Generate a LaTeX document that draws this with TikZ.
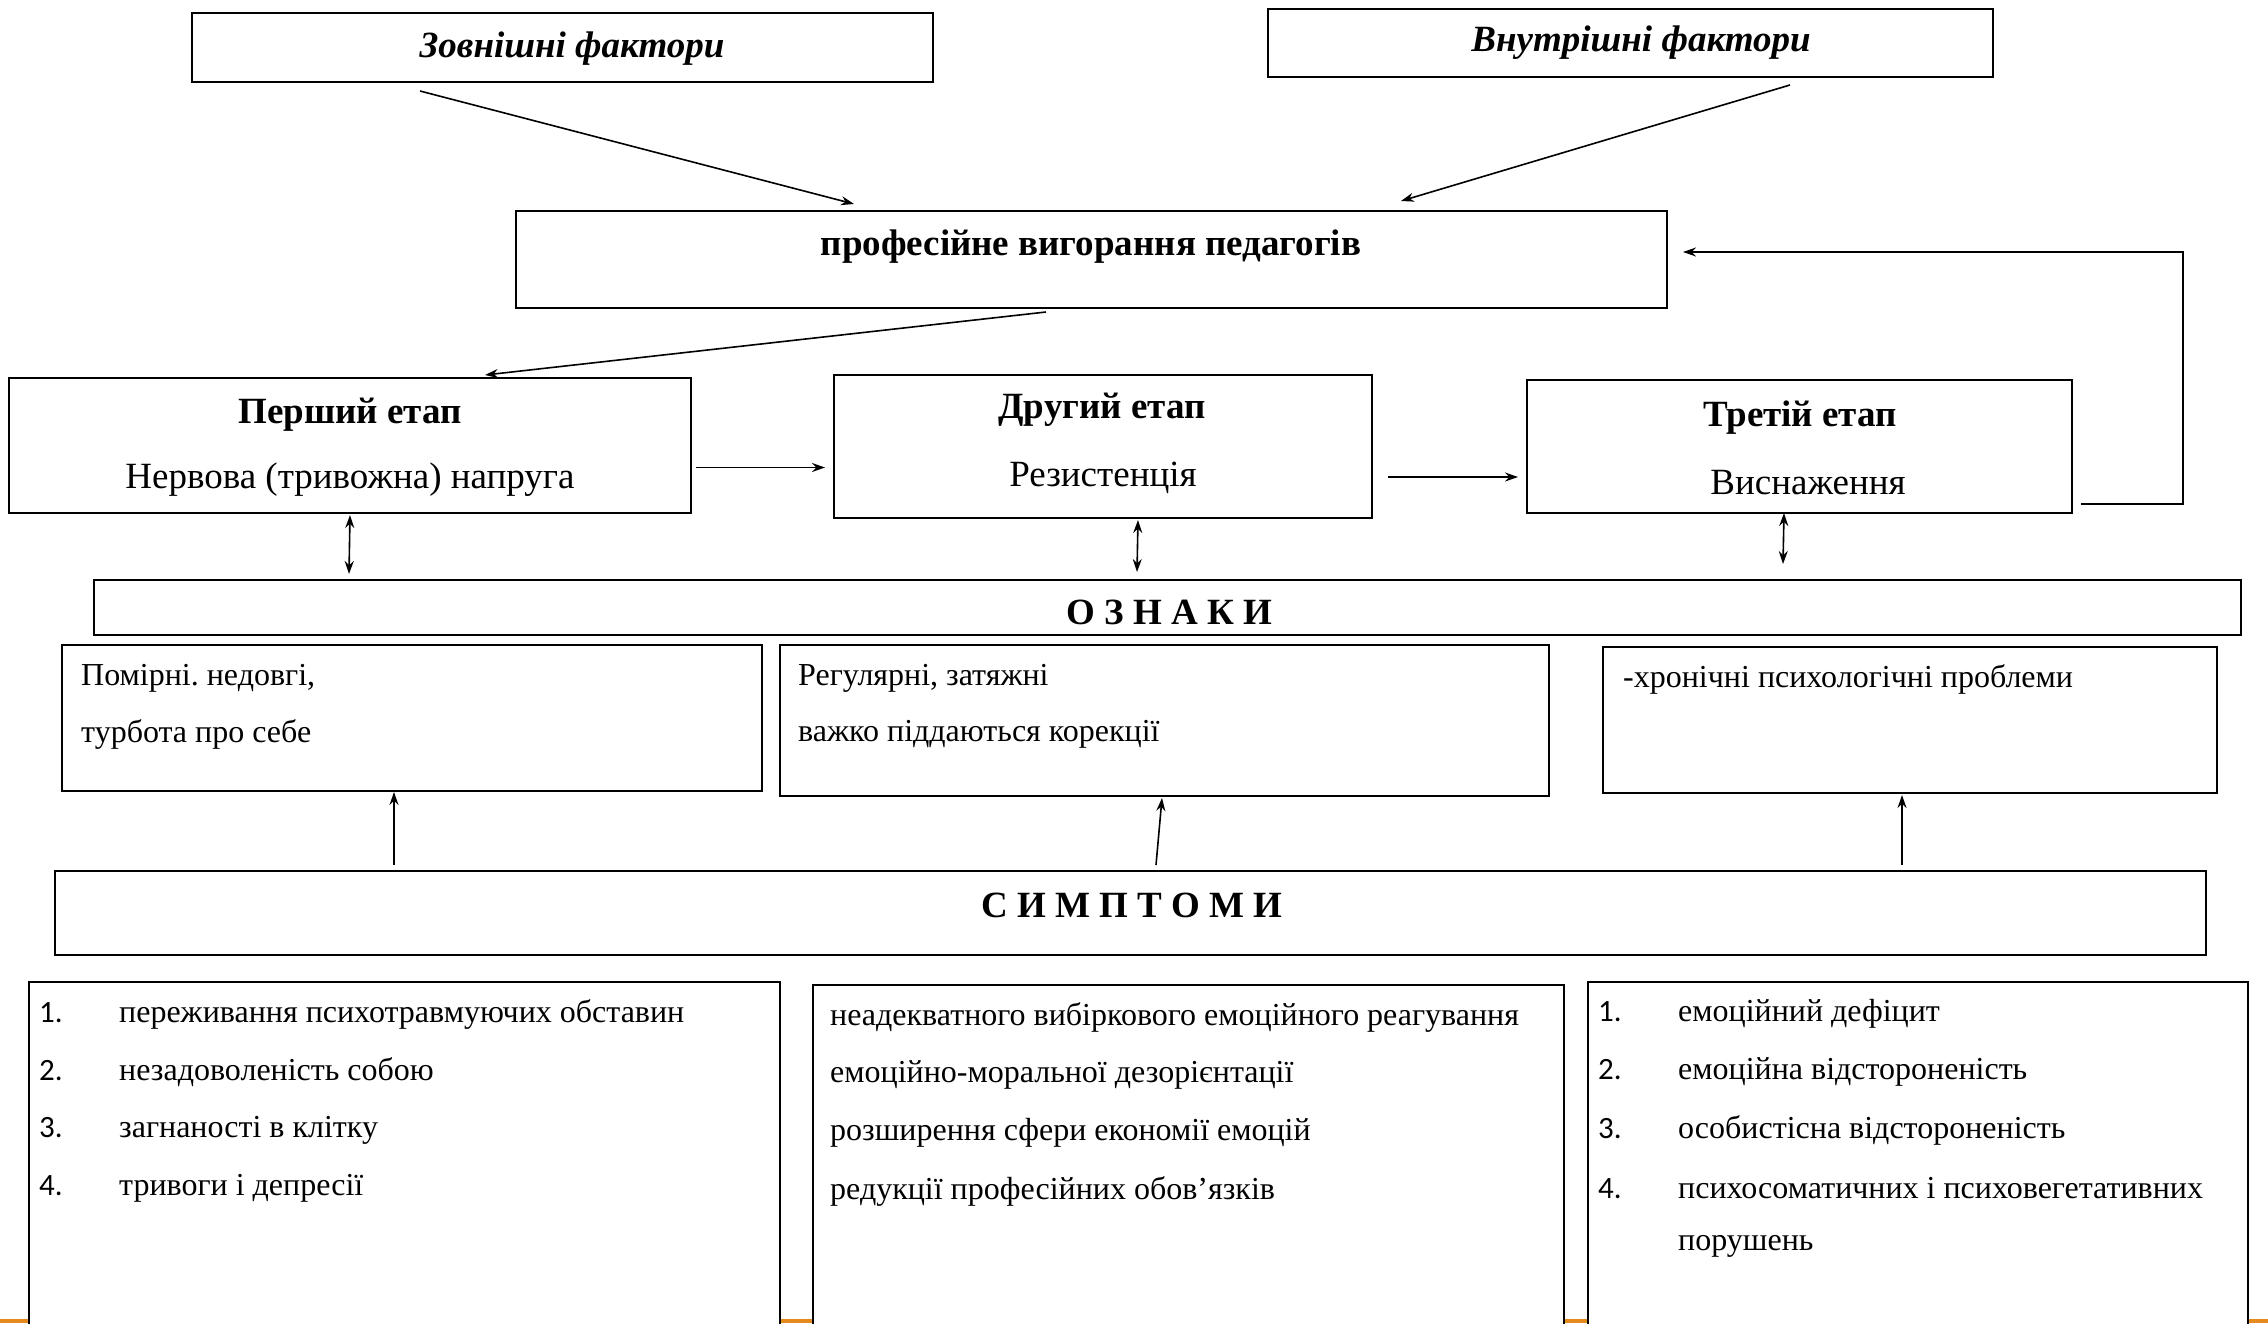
\documentclass[tikz,border=0pt]{standalone}
\usepackage{fontspec}
\setmainfont{Liberation Serif}
\newfontfamily\carlitofont{Carlito}
\usetikzlibrary{arrows.meta,calc}
\definecolor{stripe}{RGB}{230,137,30}
\newcommand{\HdFont}{\fontsize{37}{44}\selectfont\bfseries}
\newcommand{\SubFont}{\fontsize{37}{44}\selectfont}
\newcommand{\TxtFont}{\fontsize{32}{38}\selectfont}
\newcommand{\NumFont}{\fontsize{31}{38}\selectfont\carlitofont}
\frenchspacing
\begin{document}
\frenchspacing
\begin{tikzpicture}[x=1pt,y=-1pt,
  box/.style={draw, fill=white, line width=2pt, inner sep=0pt},
  conn/.style={line width=1.6pt, -{Stealth[length=13pt,width=9pt]}},
  dconn/.style={line width=1.6pt, {Stealth[length=13pt,width=9pt]}-{Stealth[length=13pt,width=9pt]}},
  lbl/.style={inner sep=0pt, anchor=center, font=\frenchspacing},
  wlbl/.style={inner sep=0pt, anchor=west, font=\frenchspacing},
  num/.style={inner sep=0pt, anchor=base west, font=\NumFont}]
\useasboundingbox (0,0) rectangle (2268,1323);
\clip (0,0) rectangle (2268,1323);
\fill[stripe] (0,1319) rectangle (2268,1323);

% boxes
\node[box, minimum width=741pt, minimum height=69pt] (ext) at (562.5,47.5) {};
\node[box, minimum width=725pt, minimum height=68pt] (int) at (1630.5,43) {};
\node[box, minimum width=1151pt, minimum height=97pt] (prof) at (1091.5,259.5) {};
\node[box, minimum width=682pt, minimum height=135pt] (s1) at (350,445.5) {};
\node[box, minimum width=538pt, minimum height=143pt] (s2) at (1103,446.5) {};
\node[box, minimum width=545pt, minimum height=133pt] (s3) at (1799.5,446.5) {};
\node[box, minimum width=2147pt, minimum height=55pt] (ozn) at (1167.5,607.5) {};
\node[box, minimum width=700pt, minimum height=146pt] (oa) at (412,718) {};
\node[box, minimum width=769pt, minimum height=151pt] (ob) at (1164.5,720.5) {};
\node[box, minimum width=614pt, minimum height=146pt] (oc) at (1910,720) {};
\node[box, minimum width=2151pt, minimum height=84pt] (sym) at (1130.5,913) {};
\node[box, minimum width=751pt, minimum height=358pt] (sa) at (404.5,1161) {};
\node[box, minimum width=751pt, minimum height=355pt] (sb) at (1188.5,1162.5) {};
\node[box, minimum width=660pt, minimum height=358pt] (sc) at (1918,1161) {};

% texts
\node[lbl] (tExt) at (572,49) {\HdFont\itshape Зовнішні фактори};
\node[lbl] (tInt) at (1641,43) {\HdFont\itshape Внутрішні фактори};
\node[lbl] (tProf) at (1091,247) {\HdFont професійне вигорання педагогів};
\node[lbl] (tS1a) at (350,415) {\HdFont Перший етап};
\node[lbl] (tS1b) at (350,480) {\SubFont Нервова (тривожна) напруга};
\node[lbl] (tS2a) at (1102,410) {\HdFont Другий етап};
\node[lbl] (tS2b) at (1103,478) {\SubFont Резистенція};
\node[lbl] (tS3a) at (1800,418) {\HdFont Третій етап};
\node[lbl] (tS3b) at (1808,483) {\SubFont Виснаження};
\node[lbl] (tOzn) at (1169,612) {\HdFont О З Н А К И};
\node[lbl] (tSym) at (1132,905) {\HdFont С И М П Т О М И};

\node[wlbl] (oa1) at (81,678) {\TxtFont Помірні. недовгі,};
\node[wlbl] (oa2) at (81,734) {\TxtFont турбота про себе};
\node[wlbl] (ob1) at (798,678) {\TxtFont Регулярні, затяжні};
\node[wlbl] (ob2) at (798,734) {\TxtFont важко піддаються корекції};
\node[wlbl] (oc1) at (1623,679) {\TxtFont -хронічні психологічні проблеми};

\node[wlbl] (ta1) at (119,1014) {\TxtFont переживання психотравмуючих обставин};
\node[wlbl] (ta2) at (119,1072) {\TxtFont незадоволеність собою};
\node[wlbl] (ta3) at (119,1130) {\TxtFont загнаності в клітку};
\node[wlbl] (ta4) at (119,1188) {\TxtFont тривоги і депресії};
\node[num] (na1) at ([xshift=-80pt]ta1.base west) {1.};
\node[num] (na2) at ([xshift=-80pt]ta2.base west) {2.};
\node[num] (na3) at ([xshift=-80pt]ta3.base west) {3.};
\node[num] (na4) at ([xshift=-80pt]ta4.base west) {4.};

\node[wlbl] (tb1) at (830,1017) {\TxtFont неадекватного вибіркового емоційного реагування};
\node[wlbl] (tb2) at (830,1075) {\TxtFont емоційно-моральної дезорієнтації};
\node[wlbl] (tb3) at (830,1133) {\TxtFont розширення сфери економії емоцій};
\node[wlbl] (tb4) at (830,1191) {\TxtFont редукції професійних обов’язків};

\node[wlbl] (tc1) at (1678,1014) {\TxtFont емоційний дефіцит};
\node[wlbl] (tc2) at (1678,1072) {\TxtFont емоційна відстороненість};
\node[wlbl] (tc3) at (1678,1130) {\TxtFont особистісна відстороненість};
\node[wlbl] (tc4) at (1678,1188) {\TxtFont психосоматичних і психовегетативних};
\node[wlbl] (tc5) at (1678,1246) {\TxtFont порушень};
\node[num] (nc1) at ([xshift=-80pt]tc1.base west) {1.};
\node[num] (nc2) at ([xshift=-80pt]tc2.base west) {2.};
\node[num] (nc3) at ([xshift=-80pt]tc3.base west) {3.};
\node[num] (nc4) at ([xshift=-80pt]tc4.base west) {4.};

% connectors
\draw[conn] ([shift={(229,8)}]ext.south west) -- ([shift={(339,-6)}]prof.north west);
\draw[conn] ([shift={(523,7)}]int.south west) -- ([shift={(886,-9)}]prof.north west);
\draw[conn] ([shift={(531,3)}]prof.south west) -- ([shift={(477,-2)}]s1.north west);
\draw[conn] ([shift={(4,22)}]s1.east) -- ([shift={(-8,21)}]s2.west);
\draw[conn] ([shift={(15,30.5)}]s2.east) -- ([shift={(-8,30.5)}]s3.west);
\draw[conn] ([shift={(8,57.5)}]s3.east) -- ++(102,0) |- ([shift={(15,-7.5)}]prof.east);
\draw[dconn] ([shift={(0,1)}]s1.south) -- ([shift={(256,-5)}]ozn.north west);
\draw[dconn] ([shift={(35,1)}]s2.south) -- ([shift={(1044,-7)}]ozn.north west);
\draw[dconn] ([shift={(-15.5,-1)}]s3.south) -- ([shift={(1690,-15)}]ozn.north west);
\draw[conn] ([shift={(340,-5)}]sym.north west) -- ([shift={(333,0)}]oa.south west);
\draw[conn] ([shift={(1102,-5)}]sym.north west) -- ([shift={(383,1)}]ob.south west);
\draw[conn] ([shift={(1848,-5)}]sym.north west) -- ([shift={(300,1)}]oc.south west);
\end{tikzpicture}
\end{document}
